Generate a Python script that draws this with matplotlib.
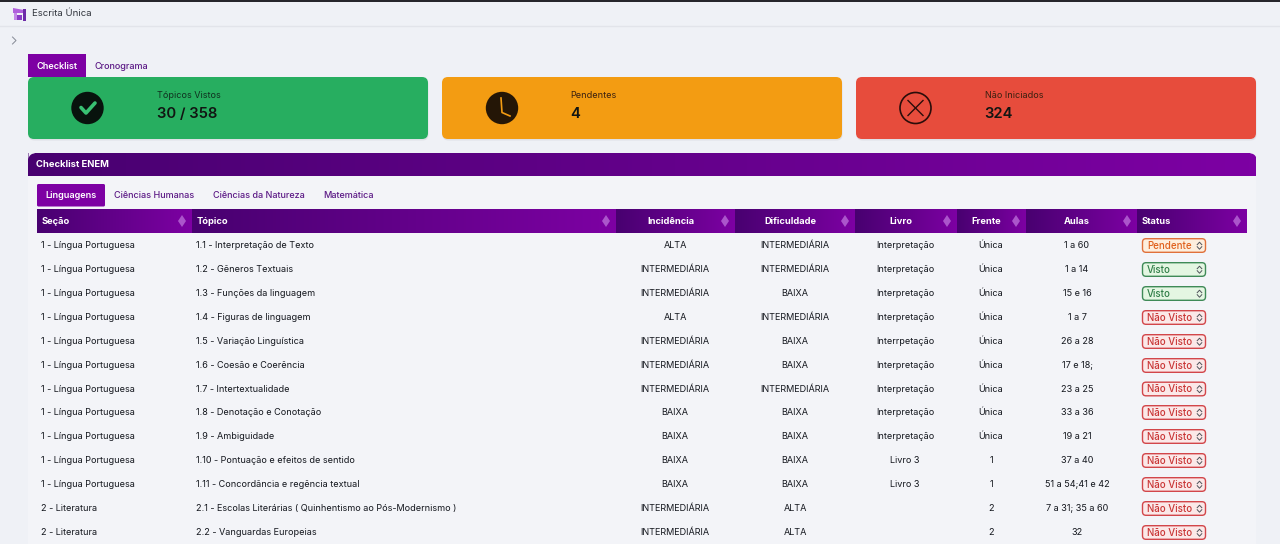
import numpy as np
import matplotlib
matplotlib.use("Agg")
import matplotlib.pyplot as plt
from matplotlib.patches import FancyBboxPatch, Circle, Rectangle, Polygon
from matplotlib.colors import LinearSegmentedColormap

plt.rcParams['font.family'] = ['Inter', 'DejaVu Sans']

# ---- content ----
app_title = "Escrita Única"
top_tabs = ["Checklist", "Cronograma"]
card_labels = ["Tópicos Vistos", "Pendentes", "Não Iniciados"]
card_values = ["30 / 358", "4", "324"]
panel_title = "Checklist ENEM"
area_tabs = ["Linguagens", "Ciências Humanas", "Ciências da Natureza", "Matemática"]
columns = ["Seção", "Tópico", "Incidência", "Dificuldade", "Livro", "Frente", "Aulas", "Status"]
secao = ["1 - Língua Portuguesa"] * 11 + ["2 - Literatura"] * 2
topico = ["1.1 - Interpretação de Texto", "1.2 - Gêneros Textuais", "1.3 - Funções da linguagem",
          "1.4 - Figuras de linguagem", "1.5 - Variação Linguística", "1.6 - Coesão e Coerência",
          "1.7 - Intertextualidade", "1.8 - Denotação e Conotação", "1.9 - Ambiguidade",
          "1.10 - Pontuação e efeitos de sentido", "1.11 - Concordância e regência textual",
          "2.1 - Escolas Literárias ( Quinhentismo ao Pós-Modernismo )", "2.2 - Vanguardas Europeias"]
incidencia = ["ALTA", "INTERMEDIÁRIA", "INTERMEDIÁRIA", "ALTA", "INTERMEDIÁRIA", "INTERMEDIÁRIA",
              "INTERMEDIÁRIA", "BAIXA", "BAIXA", "BAIXA", "BAIXA", "INTERMEDIÁRIA", "INTERMEDIÁRIA"]
dificuldade = ["INTERMEDIÁRIA", "INTERMEDIÁRIA", "BAIXA", "INTERMEDIÁRIA", "BAIXA", "BAIXA",
               "INTERMEDIÁRIA", "BAIXA", "BAIXA", "BAIXA", "BAIXA", "ALTA", "ALTA"]
livro = ["Interpretação"] * 4 + ["Interrpetação"] + ["Interpretação"] * 4 + ["Livro 3", "Livro 3", "", ""]
frente = ["Única"] * 9 + ["1", "1", "2", "2"]
aulas = ["1 a 60", "1 a 14", "15 e 16", "1 a 7", "26 a 28", "17 e 18;", "23 a 25", "33 a 36",
         "19 a 21", "37 a 40", "51 a 54;41 e 42", "7 a 31; 35 a 60", "32"]
status = ["Pendente", "Visto", "Visto"] + ["Não Visto"] * 10

# ---- layout / style ----
BG = "#eff1f6"; PANEL = "#f3f4f8"; PURPLE = "#7d00a3"; DARK = "#480070"; LINK = "#5c1a86"; TXT = "#14171e"
CARD_COL = ["#27ae60", "#f39c12", "#e74c3c"]
CARD_X = [28, 442, 856]
STAT_COL = {"Pendente": ("#e0703a", "#e0601c", "#fdeedd"),
            "Visto": ("#3f8a57", "#2f7d47", "#e4f6e2"),
            "Não Visto": ("#d2464a", "#c93535", "#fbe8e8")}
EDGES = [37, 192, 616, 735, 855, 957, 1026, 1137, 1247]
ROW_Y = [245, 269, 293, 317, 341, 365, 388.5, 412, 436, 460, 484, 508, 532]
FS = 6.55
DY = 1.0   # optical vertical offset of the text
grad = LinearSegmentedColormap.from_list("g", [DARK, PURPLE])
ramp = np.linspace(0, 1, 256).reshape(1, -1)

fig = plt.figure(figsize=(12.8, 5.44), dpi=100, facecolor=BG)
ax = fig.add_axes([0, 0, 1, 1])
ax.set_xlim(0, 1280); ax.set_ylim(544, 0); ax.axis("off")

def rbox(x0, y0, x1, y1, r, fc, ec="none", lw=0, z=2):
    p = FancyBboxPatch((x0 + r, y0 + r), x1 - x0 - 2 * r, y1 - y0 - 2 * r,
                       boxstyle=f"round,pad={r},rounding_size={r}", fc=fc, ec=ec, lw=lw, zorder=z)
    ax.add_patch(p)
    return p

def gradient(x0, y0, x1, y1, z=3):
    ax.imshow(ramp, extent=(x0, x1, y1, y0), cmap=grad, aspect="auto", zorder=z, interpolation="bilinear")
    ax.set_xlim(0, 1280); ax.set_ylim(544, 0)

def label(x, y, s, **kw):
    kw.setdefault("fontsize", FS); kw.setdefault("color", TXT)
    kw.setdefault("ha", "left"); kw.setdefault("va", "center"); kw.setdefault("zorder", 6)
    ax.text(x, y + DY, s, **kw)

# top bar
ax.add_patch(Rectangle((0, 0), 1280, 2.2, fc="#26262c", zorder=5))
ax.plot([0, 1280], [25.5, 25.5], color="#e2e4ea", lw=1, zorder=1)
# logo
ax.add_patch(Polygon([(13, 8), (24, 10), (24, 13), (13, 13)], fc="#b060dc", zorder=3))
ax.add_patch(Rectangle((14, 13), 3, 7, fc="#c489e8", zorder=3))
ax.add_patch(Rectangle((17, 15), 5, 5, fc="#8a3cc6", zorder=3))
ax.add_patch(Rectangle((23, 9), 3, 12, fc="#6d2aa8", zorder=3))
label(32.5, 13, app_title, fontsize=6.9, color="#30343c")
# chevron
ax.plot([12.5, 16, 12.5], [37, 40.5, 44], color="#858a94", lw=0.7, zorder=3)

# top tabs
ax.add_patch(Rectangle((28, 54), 58, 22.5, fc=PURPLE, zorder=3))
label(57, 65.1, top_tabs[0], color="white", weight="semibold", ha="center")
label(121.5, 65.1, top_tabs[1], color=LINK, weight="medium", ha="center")

# cards
for x, c, lab, val in zip(CARD_X, CARD_COL, card_labels, card_values):
    rbox(x + 0.5, 78.5, x + 400.5, 140.5, 6, "#dfe1e7", z=2)
    rbox(x, 77, x + 400, 139, 6, c, z=3)
    label(x + 128.7, 94.7, lab, color="#10301f" if x == 28 else "#3a2010")
    label(x + 128.7, 112.8, val, fontsize=10.7, color="#111512", weight="semibold")

# card icons
ax.add_patch(Circle((87.5, 108), 16.2, fc="#08130d", zorder=4))
ax.plot([81, 86, 95], [107.5, 113, 103], color="#38c172", lw=2.6, zorder=5,
        solid_capstyle="round", solid_joinstyle="round")
ax.add_patch(Circle((502, 108), 16.2, fc="#241606", zorder=4))
ax.plot([501, 502, 510], [98, 112.5, 116], color=CARD_COL[1], lw=1.2, zorder=5)
ax.add_patch(Circle((915.5, 108), 15.5, fc="none", ec="#2a0d0a", lw=1.2, zorder=4))
ax.plot([908, 923], [100.5, 115.5], color="#2a0d0a", lw=1.0, zorder=5)
ax.plot([908, 923], [115.5, 100.5], color="#2a0d0a", lw=1.0, zorder=5)

# panel
ax.add_patch(Rectangle((28, 165), 1228, 379, fc=PANEL, zorder=1))
gradient(28, 153, 1256, 176, z=3)
for cx, sgn in ((28, 1), (1256, -1)):
    xs = np.linspace(0, 6, 30)
    ax.fill_between(cx + sgn * xs, 152.5, 153 + 6 - np.sqrt(np.maximum(36 - (6 - xs) ** 2, 0)),
                    color=BG, lw=0, zorder=4)
label(36, 163.2, panel_title, fontsize=6.8, color="white", weight="bold")

# area tabs
rbox(37, 184, 105, 206.5, 1.5, PURPLE, z=3)
label(71, 195, area_tabs[0], color="white", weight="semibold", ha="center")
for cx, t in zip([154.5, 259, 348.5], area_tabs[1:]):
    label(cx, 195, t, color=LINK, weight="medium", ha="center")

# table header
for i, name in enumerate(columns):
    x0, x1 = EDGES[i], EDGES[i + 1]
    gradient(x0, 210, x1, 233.5)
    left = i in (0, 1, 7)
    tx = x0 + 5 if left else (x0 + x1 - 10) / 2
    label(tx, 220, name, fontsize=6.7, color="white", weight="bold", ha="left" if left else "center")
    ax.plot([x1 - 10], [220.5], marker="d", ms=6.2, color="#ab55cb", mew=0, zorder=5)

# rows
CX = [675, 795, 905, 991, 1077]
for k, y in enumerate(ROW_Y):
    label(41, y - 0.2, secao[k])
    label(196.5, y - 0.2, topico[k])
    for cx, col in zip(CX, (incidencia, dificuldade, livro, frente, aulas)):
        label(cx, y - 0.2, col[k], ha="center")
    s = status[k]
    ec, tc, fc = STAT_COL[s]
    rbox(1142.5, y - 6.3, 1205.5, y + 7.3, 3.5, fc, ec=ec, lw=1.0, z=4)
    label(1147, y - 0.2, s, fontsize=7.0, color=tc, weight="medium")
    ax.plot([1197.2, 1199.5, 1201.8], [y - 0.3, y - 2.8, y - 0.3], color="#50545c", lw=0.7, zorder=6)
    ax.plot([1197.2, 1199.5, 1201.8], [y + 1.7, y + 4.2, y + 1.7], color="#50545c", lw=0.7, zorder=6)

fig.savefig("out.png", dpi=100, facecolor=BG)
